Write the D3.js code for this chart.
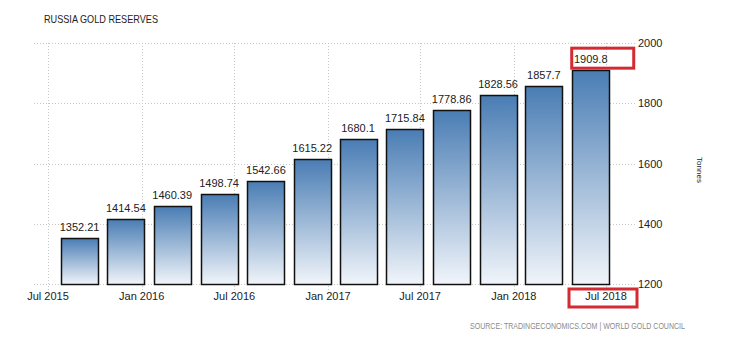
<!DOCTYPE html>
<html>
<head>
<meta charset="utf-8">
<script src="https://cdn.jsdelivr.net/npm/d3@7"></script>
<style>
  body { margin: 0; background: #fff; }
  text { font-family: "Liberation Sans", Arial, sans-serif; fill: #222; }
</style>
</head>
<body>
<svg id="chart" width="730" height="340"></svg>
<script>
// quarterly readings, tonnes
var barDates = ["2015-09", "2015-12", "2016-03", "2016-06", "2016-09", "2016-12",
                "2017-03", "2017-06", "2017-09", "2017-12", "2018-03", "2018-06"];
var barValues = [1352.21, 1414.54, 1460.39, 1498.74, 1542.66, 1615.22,
                 1680.1, 1715.84, 1778.86, 1828.56, 1857.7, 1909.8];
var xTicks = ["2015-07", "2016-01", "2016-07", "2017-01", "2017-07", "2018-01", "2018-07"];
var yTicks = [1200, 1400, 1600, 1800, 2000];

var parse = d3.timeParse("%Y-%m");
var data = barDates.map((d, i) => ({ date: parse(d), value: barValues[i] }));
var tickDates = xTicks.map(parse);

var svg = d3.select("#chart");

var plot = { left: 34, right: 636, top: 43, bottom: 284 };

var x = d3.scaleTime()
  .domain([parse("2015-07"), parse("2018-07")])
  .range([48, 606]);
var y = d3.scaleLinear().domain([1200, 2000]).range([plot.bottom, plot.top]);
var barW = 37;

// gradient for bars
var grad = svg.append("defs").append("linearGradient")
  .attr("id", "barGrad").attr("x1", 0).attr("y1", 0).attr("x2", 0).attr("y2", 1);
grad.append("stop").attr("offset", "0%").attr("stop-color", "#4a7db4");
grad.append("stop").attr("offset", "100%").attr("stop-color", "#f1f5fa");

// title
svg.append("text")
  .attr("x", 44).attr("y", 22.5)
  .attr("font-size", 11)
  .attr("textLength", 114).attr("lengthAdjust", "spacingAndGlyphs")
  .text("RUSSIA GOLD RESERVES");

// horizontal grid
svg.append("g").selectAll("line")
  .data(yTicks)
  .join("line")
  .attr("x1", plot.left).attr("x2", plot.right)
  .attr("y1", d => Math.round(y(d)) + 0.5).attr("y2", d => Math.round(y(d)) + 0.5)
  .attr("stroke", "#c8c8c8").attr("stroke-dasharray", "1,2");

// vertical grid + ticks
svg.append("g").selectAll("line")
  .data(tickDates)
  .join("line")
  .attr("x1", d => Math.round(x(d)) + 0.5).attr("x2", d => Math.round(x(d)) + 0.5)
  .attr("y1", plot.top).attr("y2", plot.bottom + 6)
  .attr("stroke", "#c8c8c8").attr("stroke-dasharray", "1,2");

// bars
svg.append("g").selectAll("rect")
  .data(data)
  .join("rect")
  .attr("x", d => Math.round(x(d.date) - barW / 2) + 0.5)
  .attr("y", d => Math.round(y(d.value)) + 0.5)
  .attr("width", barW)
  .attr("height", d => plot.bottom - Math.round(y(d.value)))
  .attr("fill", "url(#barGrad)")
  .attr("stroke", "#111")
  .attr("stroke-width", 1.5);

// value labels
svg.append("g").selectAll("text")
  .data(data)
  .join("text")
  .attr("x", d => x(d.date))
  .attr("y", d => y(d.value) - 7)
  .attr("text-anchor", "middle")
  .attr("font-size", 11)
  .text(d => String(d.value));

// x axis labels
var fmt = d3.timeFormat("%b %Y");
svg.append("g").selectAll("text")
  .data(tickDates)
  .join("text")
  .attr("x", d => x(d))
  .attr("y", 300)
  .attr("text-anchor", "middle")
  .attr("font-size", 11)
  .text(d => fmt(d));

// y axis labels (right)
svg.append("g").selectAll("text")
  .data(yTicks)
  .join("text")
  .attr("x", 638)
  .attr("y", d => y(d) + 4)
  .attr("font-size", 11)
  .text(d => d);

svg.append("text")
  .attr("transform", "translate(697,170) rotate(90)")
  .attr("text-anchor", "middle")
  .attr("font-size", 8)
  .text("Tonnes");

// source
svg.append("text")
  .attr("x", 470).attr("y", 329)
  .attr("font-size", 8.5)
  .attr("textLength", 215).attr("lengthAdjust", "spacingAndGlyphs")
  .style("fill", "#8a8a8a")
  .text("SOURCE: TRADINGECONOMICS.COM | WORLD GOLD COUNCIL");

// red highlight boxes
var last = data[data.length - 1];
svg.append("rect")
  .attr("x", x(last.date) - 19).attr("y", y(last.value) - 22)
  .attr("width", 62).attr("height", 20)
  .attr("fill", "none").attr("stroke", "#d42a32").attr("stroke-width", 3);
var lastTick = tickDates[tickDates.length - 1];
svg.append("rect")
  .attr("x", x(lastTick) - 37).attr("y", 289)
  .attr("width", 68).attr("height", 18)
  .attr("fill", "none").attr("stroke", "#d42a32").attr("stroke-width", 3);
</script>
</body>
</html>
